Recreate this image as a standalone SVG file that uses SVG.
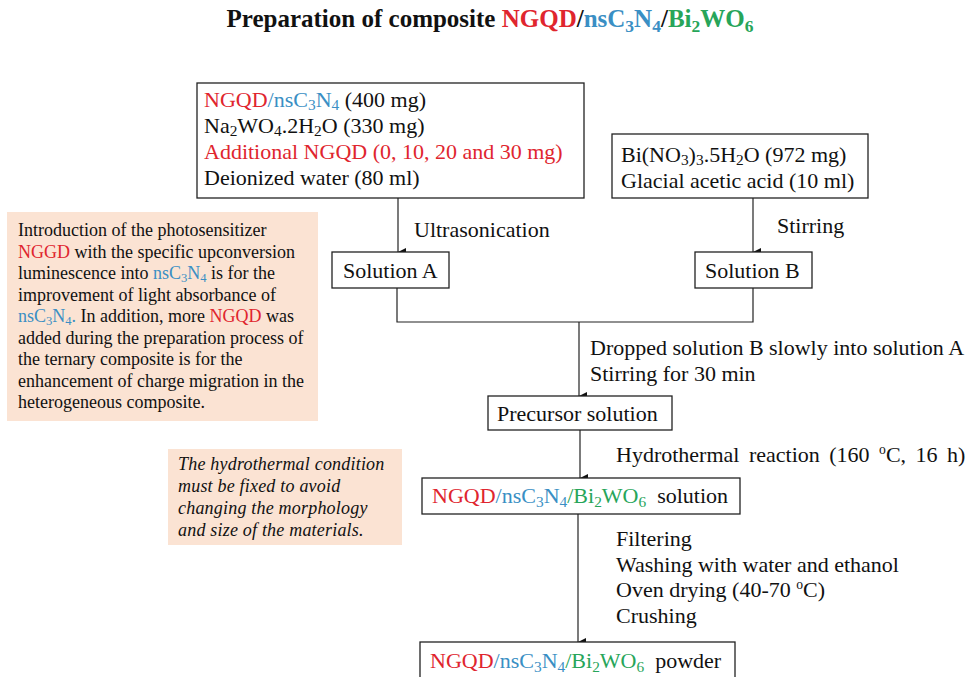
<svg xmlns="http://www.w3.org/2000/svg" width="970" height="677" viewBox="0 0 970 677" font-family="'Liberation Serif', 'Times New Roman', 'DejaVu Serif', serif">
<defs>
<marker id="ah" markerWidth="10" markerHeight="10" refX="5" refY="9" orient="auto" markerUnits="userSpaceOnUse" viewBox="0 0 10 10">
<path d="M1,1 L9,1 L5,9 Z" fill="#111"/>
</marker>
<style>
text{font-family:'Liberation Serif','Times New Roman','DejaVu Serif',serif;fill:#111}
.t{font-size:22px}
.n{font-size:18px}
.i{font-size:18px;font-style:italic;letter-spacing:0.2px}
.title{font-size:25px;font-weight:bold}
.box{fill:#fff;stroke:#222;stroke-width:1.3}
.note{fill:#fbe3d3;stroke:none}
.ln{fill:none;stroke:#222;stroke-width:1.2}
.r{fill:#e0252e}
.b{fill:#3a8fc4}
.g{fill:#27a55a}
.s{font-size:70%}
.p{font-size:62%}
</style>
</defs>
<rect width="970" height="677" fill="#fff"/>

<g id="title">
<text class="title" x="490" y="27" text-anchor="middle">Preparation of composite <tspan class="r">NGQD</tspan>/<tspan class="b">nsC</tspan><tspan class="b s" dy="5">3</tspan><tspan class="b" dy="-5">N</tspan><tspan class="b s" dy="5">4</tspan><tspan dy="-5">/</tspan><tspan class="g">Bi</tspan><tspan class="g s" dy="5">2</tspan><tspan class="g" dy="-5">WO</tspan><tspan class="g s" dy="5">6</tspan></text>
</g>

<g id="connectors">
<line class="ln" x1="398" y1="198" x2="398" y2="252" marker-end="url(#ah)"/>
<line class="ln" x1="753" y1="198" x2="753" y2="252" marker-end="url(#ah)"/>
<polyline class="ln" points="397,288 397,322 753,322 753,288"/>
<line class="ln" x1="579" y1="322" x2="579" y2="396" marker-end="url(#ah)"/>
<line class="ln" x1="580" y1="430" x2="580" y2="478" marker-end="url(#ah)"/>
<line class="ln" x1="578" y1="514" x2="578" y2="642" marker-end="url(#ah)"/>
<text class="t" x="414" y="237">Ultrasonication</text>
<text class="t" x="777" y="233">Stirring</text>
<text class="t" x="590" y="355">Dropped solution B slowly into solution A</text>
<text class="t" x="590" y="381">Stirring for 30 min</text>
<text class="t" x="616" y="462" word-spacing="4">Hydrothermal reaction (160 <tspan class="p" dy="-8">o</tspan><tspan dy="8">C, 16 h)</tspan></text>
<text class="t" x="616" y="546">Filtering</text>
<text class="t" x="616" y="572">Washing with water and ethanol</text>
<text class="t" x="616" y="597">Oven drying (40-70 <tspan class="p" dy="-8">o</tspan><tspan dy="8">C)</tspan></text>
<text class="t" x="616" y="623">Crushing</text>
</g>

<g id="reagentsA">
<rect class="box" x="197" y="83" width="387" height="115"/>
<text class="t" x="204" y="107"><tspan class="r">NGQD</tspan><tspan class="b">/nsC</tspan><tspan class="b s" dy="3">3</tspan><tspan class="b" dy="-3">N</tspan><tspan class="b s" dy="3">4</tspan><tspan dy="-3"> (400 mg)</tspan></text>
<text class="t" x="204" y="133">Na<tspan class="s" dy="3">2</tspan><tspan dy="-3">WO</tspan><tspan class="s" dy="3">4</tspan><tspan dy="-3">.2H</tspan><tspan class="s" dy="3">2</tspan><tspan dy="-3">O  (330 mg)</tspan></text>
<text class="t r" x="204" y="159">Additional NGQD (0, 10, 20 and 30 mg)</text>
<text class="t" x="204" y="185">Deionized water (80 ml)</text>
</g>

<g id="reagentsB">
<rect class="box" x="612" y="134" width="256" height="64"/>
<text class="t" x="621" y="162">Bi(NO<tspan class="s" dy="3">3</tspan><tspan dy="-3">)</tspan><tspan class="s" dy="3">3</tspan><tspan dy="-3">.5H</tspan><tspan class="s" dy="3">2</tspan><tspan dy="-3">O (972 mg)</tspan></text>
<text class="t" x="621" y="188">Glacial acetic acid (10 ml)</text>
</g>

<g id="solutionA">
<rect class="box" x="332" y="252" width="117" height="36"/>
<text class="t" x="343" y="278">Solution A</text>
</g>

<g id="solutionB">
<rect class="box" x="695" y="252" width="117" height="36"/>
<text class="t" x="705" y="278">Solution B</text>
</g>

<g id="precursor">
<rect class="box" x="488" y="396" width="184" height="34"/>
<text class="t" x="497" y="421">Precursor solution</text>
</g>

<g id="compositeSolution">
<rect class="box" x="422" y="478" width="318" height="36"/>
<text class="t" x="432" y="503"><tspan class="r">NGQD</tspan><tspan class="b">/nsC</tspan><tspan class="b s" dy="4">3</tspan><tspan class="b" dy="-4">N</tspan><tspan class="b s" dy="4">4</tspan><tspan class="g" dy="-4">/Bi</tspan><tspan class="g s" dy="4">2</tspan><tspan class="g" dy="-4">WO</tspan><tspan class="g s" dy="4">6</tspan><tspan dy="-4" xml:space="preserve">  solution</tspan></text>
</g>

<g id="compositePowder">
<rect class="box" x="420" y="642" width="315" height="40"/>
<text class="t" x="430" y="668"><tspan class="r">NGQD</tspan><tspan class="b">/nsC</tspan><tspan class="b s" dy="4">3</tspan><tspan class="b" dy="-4">N</tspan><tspan class="b s" dy="4">4</tspan><tspan class="g" dy="-4">/Bi</tspan><tspan class="g s" dy="4">2</tspan><tspan class="g" dy="-4">WO</tspan><tspan class="g s" dy="4">6</tspan><tspan dy="-4" xml:space="preserve">  powder</tspan></text>
</g>

<g id="note1">
<rect class="note" x="7" y="212" width="311" height="209"/>
<text class="n" x="18" y="236">Introduction of the photosensitizer</text>
<text class="n" x="18" y="257.5"><tspan class="r">NGGD</tspan> with the specific upconversion</text>
<text class="n" x="18" y="279"><tspan>luminescence into </tspan><tspan class="b">nsC</tspan><tspan class="b s" dy="3">3</tspan><tspan class="b" dy="-3">N</tspan><tspan class="b s" dy="3">4</tspan><tspan dy="-3"> is for the</tspan></text>
<text class="n" x="18" y="300.5">improvement of light absorbance of</text>
<text class="n" x="18" y="322"><tspan class="b">nsC</tspan><tspan class="b s" dy="3">3</tspan><tspan class="b" dy="-3">N</tspan><tspan class="b s" dy="3">4</tspan><tspan class="b" dy="-3">.</tspan> In addition, more <tspan class="r">NGQD</tspan> was</text>
<text class="n" x="18" y="343.5">added during the preparation process of</text>
<text class="n" x="18" y="365">the ternary composite is for the</text>
<text class="n" x="18" y="386.5">enhancement of charge migration in the</text>
<text class="n" x="18" y="408">heterogeneous composite.</text>
</g>

<g id="note2">
<rect class="note" x="168" y="449" width="234" height="96"/>
<text class="i" x="178" y="470">The hydrothermal condition</text>
<text class="i" x="178" y="492">must be fixed to avoid</text>
<text class="i" x="178" y="514">changing the morphology</text>
<text class="i" x="178" y="536">and size of the materials.</text>
</g>
</svg>
